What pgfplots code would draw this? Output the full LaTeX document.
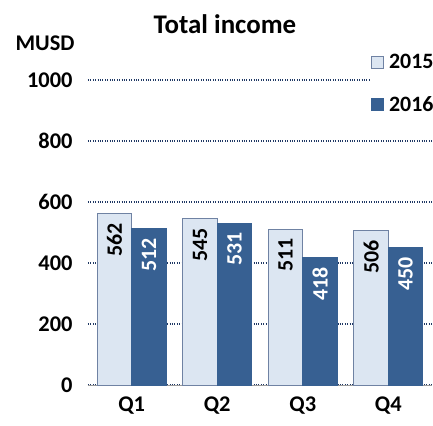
\documentclass[border=0pt]{standalone}
\usepackage{fontspec}
\setmainfont{Carlito}
\usepackage{pgfplots}
\pgfplotsset{compat=1.18}

\definecolor{lightbar}{HTML}{DCE6F2}
\definecolor{lightedge}{HTML}{6F82A3}
\definecolor{darkbar}{HTML}{376092}
\definecolor{gridblue}{HTML}{1F3864}

\begin{document}
\begin{tikzpicture}
\path[use as bounding box] (-88bp,-41bp) rectangle (345bp,385bp);
\begin{axis}[
    scale only axis,
    width=344bp, height=305bp,
    ybar=0pt, bar width=34.5bp,
    xmin=-0.51, xmax=3.51,
    ymin=0, ymax=1000,
    xtick=data,
    xticklabels={Q1,Q2,Q3,Q4},
    ytick={0,200,400,600,800,1000},
    axis x line*=bottom,
    axis y line*=left,
    y axis line style={draw=none},
    x axis line style={draw=gray!80, line width=1pt, -},
    major tick length=0pt,
    ymajorgrids,
    grid style={gridblue, line width=1.1bp, dash pattern=on 1.1bp off 1.3bp},
    tick label style={font=\fontsize{22.5}{24}\selectfont\bfseries},
    /pgf/number format/assume math mode=true,
    /pgf/number format/1000 sep={},
    yticklabel style={xshift=-12bp},
    xticklabel style={yshift=-8bp},
    nodes near coords,
    every node near coord/.append style={rotate=90, anchor=east, font=\fontsize{22}{24}\selectfont\bfseries, inner xsep=9bp},
    legend style={at={(0.82,1.095)}, anchor=north west, draw=none, fill=white,
        font=\fontsize{22}{24}\selectfont\bfseries, row sep=22bp, inner sep=1bp},
    legend cell align=left,
    legend image code/.code={\draw[#1] (0bp,-6bp) rectangle (12bp,6bp);},
    clip=false,
]
\addplot[fill=lightbar, draw=lightedge, line width=0.8pt, nodes near coords style={text=black}]
    coordinates {(0,562) (1,545) (2,511) (3,506)};
\addlegendentry{\hspace{3bp}2015}
\addplot[fill=darkbar, draw=darkbar, line width=0.8pt, nodes near coords style={text=white}]
    coordinates {(0,512) (1,531) (2,418) (3,450)};
\addlegendentry{\hspace{3bp}2016}
\node[font=\fontsize{27}{29}\selectfont\bfseries] at (rel axis cs:0.398,1.183) {Total income};
\node[font=\fontsize{22.5}{24}\selectfont\bfseries] at (rel axis cs:-0.125,1.12) {MUSD};
\end{axis}
\end{tikzpicture}
\end{document}
